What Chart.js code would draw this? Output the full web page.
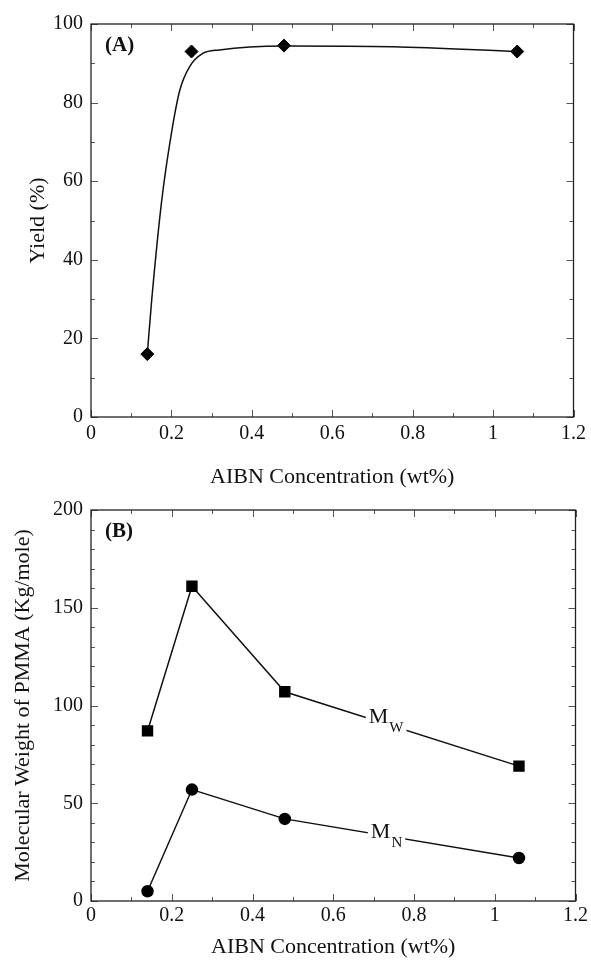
<!DOCTYPE html>
<html><head><meta charset="utf-8">
<script src="https://cdn.jsdelivr.net/npm/chart.js@4"></script>
<style>
html,body{margin:0;padding:0;background:#fff;width:591px;height:966px;overflow:hidden}
#wa{position:absolute;left:0;top:0;width:591px;height:490px}
#wb{position:absolute;left:0;top:490px;width:591px;height:476px}
</style></head><body>
<div id="wa"><canvas id="ca" width="591" height="490"></canvas></div>
<div id="wb"><canvas id="cb" width="591" height="476"></canvas></div>
<script>
// ---- data ----
const aibn = [0.14, 0.25, 0.48, 1.06];
const yieldPct = [16, 93, 94.5, 93];
const yieldFitX = [0.14, 0.151, 0.176, 0.2, 0.221, 0.245, 0.278, 0.319, 0.48, 0.75, 1.06];
const yieldFitY = [16, 29.8, 55.2, 72.2, 83.2, 89.1, 92.5, 93.4, 94.4, 94.2, 93];
const mwValues = [87, 161, 107, 69];
const mnValues = [5, 57, 42, 22];
const xTickValues = [0, 0.2, 0.4, 0.6, 0.8, 1, 1.2];
const xTickLabels = ['0', '0.2', '0.4', '0.6', '0.8', '1', '1.2'];
const yieldTickValues = [0, 20, 40, 60, 80, 100];
const yieldTickLabels = ['0', '20', '40', '60', '80', '100'];
const mwTickValues = [0, 50, 100, 150, 200];
const mwTickLabels = ['0', '50', '100', '150', '200'];

const SERIF = '"Liberation Serif", "DejaVu Serif", serif';
const TXT = '#111';

function labelFor(vals, labs) {
  return v => { const i = vals.findIndex(t => Math.abs(t - v) < 1e-6); return i >= 0 ? labs[i] : ''; };
}
function pts(xs, ys) { return xs.map((x, i) => ({x: x, y: ys[i]})); }

// frame + inward ticks on all four sides
const framePlugin = {
  id: 'frame',
  beforeDatasetsDraw(chart, args, o) {
    const {ctx, chartArea: a, scales} = chart;
    const xs = scales.x, ys = scales.y;
    ctx.save();
    ctx.strokeStyle = '#555';
    ctx.lineWidth = 1;
    for (let v = 0; v <= 1.2001; v += 0.1) {
      const major = Math.abs(v / 0.2 - Math.round(v / 0.2)) < 1e-6;
      const L = major ? 7 : 4;
      const px = Math.round(xs.getPixelForValue(v)) + 0.5;
      ctx.beginPath();
      ctx.moveTo(px, a.bottom); ctx.lineTo(px, a.bottom - L);
      ctx.moveTo(px, a.top); ctx.lineTo(px, a.top + L);
      ctx.stroke();
    }
    for (let v = ys.min; v <= ys.max + 1e-6; v += o.minor) {
      const major = Math.abs(v / o.major - Math.round(v / o.major)) < 1e-6;
      const L = major ? 7 : 4;
      const py = Math.round(ys.getPixelForValue(v)) + 0.5;
      ctx.beginPath();
      ctx.moveTo(a.left, py); ctx.lineTo(a.left + L, py);
      ctx.moveTo(a.right, py); ctx.lineTo(a.right - L, py);
      ctx.stroke();
    }
    ctx.strokeStyle = '#222';
    ctx.lineWidth = 1.3;
    ctx.strokeRect(a.left, a.top, a.right - a.left, a.bottom - a.top);
    ctx.restore();
  },
  afterDatasetsDraw(chart, args, o) {
    const {ctx, chartArea: a, scales} = chart;
    ctx.save();
    ctx.fillStyle = TXT;
    ctx.font = 'bold 21px ' + SERIF;
    ctx.textBaseline = 'middle';
    ctx.textAlign = 'left';
    ctx.fillText(o.panel, a.left + 14, a.top + 22);
    (o.seriesLabels || []).forEach(l => {
      const px = scales.x.getPixelForValue(l.x);
      const py = scales.y.getPixelForValue(l.y);
      ctx.font = '22px ' + SERIF;
      const wM = ctx.measureText(l.main).width;
      ctx.font = '15px ' + SERIF;
      const wS = ctx.measureText(l.sub).width;
      const total = wM + 1 + wS;
      const x0 = px - total / 2;
      ctx.fillStyle = '#fff';
      ctx.fillRect(x0 - 3, py - 19, total + 6, 32);
      ctx.fillStyle = TXT;
      ctx.textBaseline = 'alphabetic';
      ctx.font = '22px ' + SERIF;
      ctx.fillText(l.main, x0, py);
      ctx.font = '15px ' + SERIF;
      ctx.fillText(l.sub, x0 + wM + 1, py + 9);
    });
    ctx.restore();
  }
};

function xAxis(height, pad, titlePadBottom) {
  return {
    type: 'linear', min: 0, max: 1.2,
    grid: {display: false, drawTicks: false},
    border: {display: false},
    afterBuildTicks: s => { s.ticks = xTickValues.map(v => ({value: v})); },
    ticks: {callback: labelFor(xTickValues, xTickLabels), font: {family: SERIF, size: 20}, color: TXT, padding: pad, maxRotation: 0, autoSkip: false},
    title: {display: true, text: 'AIBN Concentration (wt%)', font: {family: SERIF, size: 22}, color: TXT, padding: {top: 0, bottom: titlePadBottom}},
    afterFit: s => { s.height = height; }
  };
}
function yAxis(max, vals, labs, title, titlePadTop) {
  return {
    type: 'linear', min: 0, max: max,
    grid: {display: false, drawTicks: false},
    border: {display: false},
    afterBuildTicks: s => { s.ticks = vals.map(v => ({value: v})); },
    ticks: {callback: labelFor(vals, labs), font: {family: SERIF, size: 20}, color: TXT, padding: 8, autoSkip: false},
    title: {display: true, text: title, font: {family: SERIF, size: 22}, color: TXT, padding: {top: titlePadTop, bottom: 0}},
    afterFit: s => { s.width = 91; }
  };
}

new Chart(document.getElementById('ca'), {
  type: 'line',
  data: {
    datasets: [
      {label: 'fit', data: pts(yieldFitX, yieldFitY), borderColor: '#111', borderWidth: 1.5, pointRadius: 0, cubicInterpolationMode: 'monotone', fill: false},
      {label: 'Yield', data: pts(aibn, yieldPct), showLine: false, pointStyle: 'rectRot', pointRadius: 6.5, pointBackgroundColor: '#000', pointBorderColor: '#000', borderWidth: 1}
    ]
  },
  options: {
    responsive: false, animation: false, devicePixelRatio: 1,
    layout: {padding: {left: 0, right: 14, top: 24, bottom: 0}},
    plugins: {legend: {display: false}, tooltip: {enabled: false},
      frame: {panel: '(A)', minor: 10, major: 20}},
    scales: {
      x: xAxis(73, 5, 0),
      y: yAxis(100, yieldTickValues, yieldTickLabels, 'Yield (%)', 25)
    }
  },
  plugins: [framePlugin]
});

new Chart(document.getElementById('cb'), {
  type: 'line',
  data: {
    datasets: [
      {label: 'Mw', data: pts(aibn, mwValues), borderColor: '#111', borderWidth: 1.5, pointStyle: 'rect', pointRadius: 7, pointBackgroundColor: '#000', pointBorderColor: '#000', tension: 0, fill: false},
      {label: 'Mn', data: pts(aibn, mnValues), borderColor: '#111', borderWidth: 1.5, pointStyle: 'circle', pointRadius: 5.5, pointBackgroundColor: '#000', pointBorderColor: '#000', tension: 0, fill: false}
    ]
  },
  options: {
    responsive: false, animation: false, devicePixelRatio: 1,
    layout: {padding: {left: 0, right: 14, top: 17, bottom: 0}},
    plugins: {legend: {display: false}, tooltip: {enabled: false},
      frame: {panel: '(B)', minor: 10, major: 50,
        seriesLabels: [{x: 0.731, y: 91, main: 'M', sub: 'W'}, {x: 0.732, y: 32, main: 'M', sub: 'N'}]}},
    scales: {
      x: xAxis(65, 3, 6),
      y: yAxis(200, mwTickValues, mwTickLabels, 'Molecular Weight of PMMA (Kg/mole)', 10)
    }
  },
  plugins: [framePlugin]
});
</script>
</body></html>
